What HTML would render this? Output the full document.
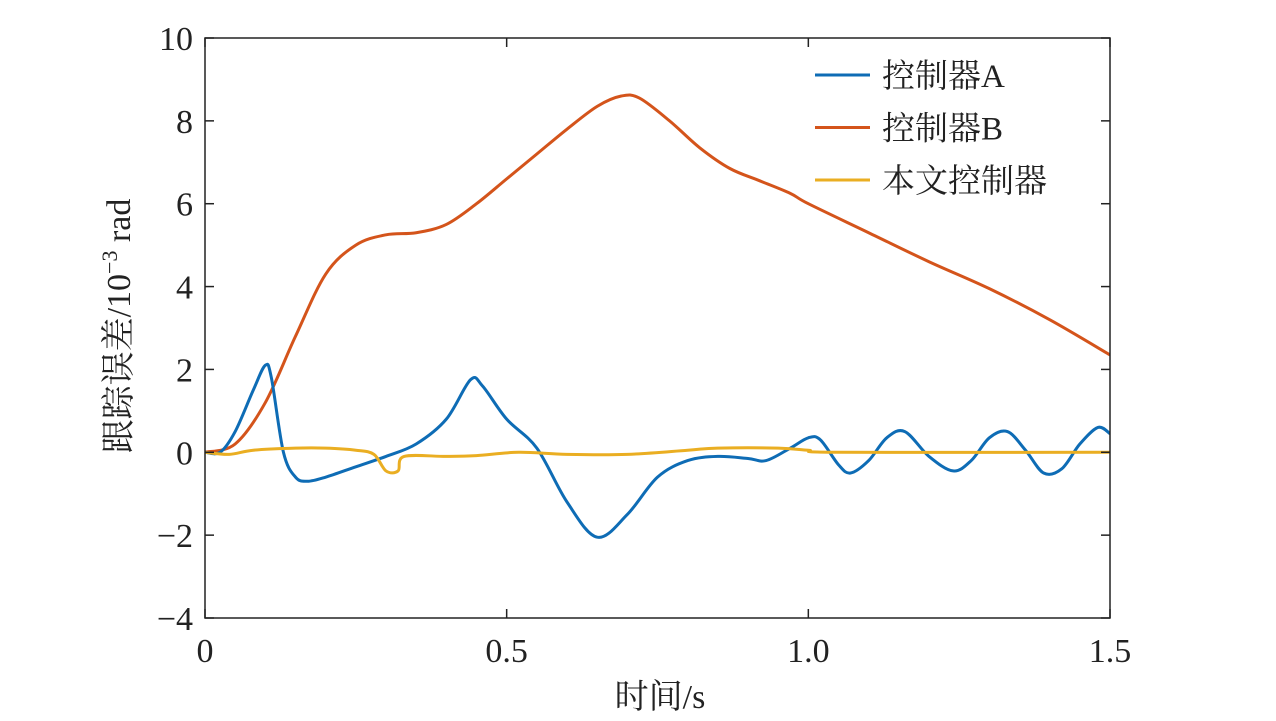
<!DOCTYPE html>
<html><head><meta charset="utf-8"><style>
body{margin:0;background:#fff}
svg{display:block}
text{font-family:"Liberation Serif","Noto Serif CJK SC",serif;fill:#222}
</style></head><body>
<svg id="c" width="1276" height="721"></svg>
<script>
const seriesAx=[0,0.025,0.05,0.08,0.1,0.11,0.13,0.15,0.17,0.2,0.25,0.3,0.35,0.4,0.44,0.46,0.5,0.55,0.6,0.65,0.7,0.75,0.8,0.85,0.9,0.93,0.97,1.0,1.02,1.05,1.07,1.1,1.13,1.16,1.2,1.24,1.27,1.3,1.33,1.36,1.39,1.42,1.45,1.48,1.5];
const seriesAy=[0,0,0.5,1.5,2.1,1.8,0,-0.6,-0.7,-0.6,-0.35,-0.1,0.2,0.8,1.75,1.6,0.8,0.1,-1.2,-2.05,-1.5,-0.6,-0.2,-0.1,-0.15,-0.2,0.1,0.35,0.3,-0.3,-0.5,-0.2,0.35,0.5,-0.1,-0.45,-0.2,0.35,0.5,0.05,-0.5,-0.4,0.2,0.6,0.45];
const seriesBx=[0,0.05,0.1,0.15,0.2,0.25,0.3,0.35,0.4,0.45,0.5,0.55,0.6,0.65,0.69,0.72,0.77,0.82,0.87,0.92,0.97,1.0,1.1,1.2,1.3,1.4,1.5];
const seriesBy=[0,0.2,1.2,2.8,4.3,5.0,5.25,5.3,5.5,6.0,6.6,7.2,7.8,8.35,8.6,8.55,8.0,7.35,6.85,6.55,6.25,6.0,5.3,4.6,3.95,3.2,2.35];
const seriesCx=[0,0.04,0.08,0.15,0.2,0.25,0.28,0.3,0.32,0.33,0.4,0.45,0.52,0.6,0.7,0.8,0.85,0.95,1.0,1.05,1.5];
const seriesCy=[0,-0.05,0.05,0.1,0.1,0.05,-0.05,-0.45,-0.45,-0.1,-0.1,-0.08,0,-0.05,-0.05,0.05,0.1,0.1,0.05,0,0];
const xTicks=[0,0.5,1.0,1.5], xTickLabels=["0","0.5","1.0","1.5"];
const yTicks=[-4,-2,0,2,4,6,8,10], yTickLabels=["\u22124","\u22122","0","2","4","6","8","10"];
const legendLabels=["控制器A","控制器B","本文控制器"];
const colors=["#0e6cb5","#d4541b","#eaae22"];

const L=205,R=1110,T=38,B=618;
const sx=v=>L+(v-0)/1.5*(R-L), sy=v=>T+(10-v)/14*(B-T);
const svg=document.getElementById('c'), NS="http://www.w3.org/2000/svg";
function mk(t,a,p){const e=document.createElementNS(NS,t);for(const k in a)e.setAttribute(k,a[k]);(p||svg).appendChild(e);return e;}
function path(xs,ys){const p=xs.map((x,i)=>[sx(x),sy(ys[i])]);let d=`M${p[0][0]},${p[0][1]}`;
for(let i=0;i<p.length-1;i++){const p0=p[i-1]||p[i],p1=p[i],p2=p[i+1],p3=p[i+2]||p2;
d+=` C${p1[0]+(p2[0]-p0[0])/6},${p1[1]+(p2[1]-p0[1])/6} ${p2[0]-(p3[0]-p1[0])/6},${p2[1]-(p3[1]-p1[1])/6} ${p2[0]},${p2[1]}`;}return d;}
const clip=mk('clipPath',{id:'cl'});mk('rect',{x:L,y:T,width:R-L,height:B-T},clip);
const data=[[seriesAx,seriesAy],[seriesBx,seriesBy],[seriesCx,seriesCy]];
const names=['series-controller-a','series-controller-b','series-proposed-controller'];
[1,0,2].forEach(i=>{const e=mk('path',{d:path(data[i][0],data[i][1]),fill:'none',stroke:colors[i],'stroke-width':3,'clip-path':'url(#cl)'});

});
const fr=mk('rect',{x:L,y:T,width:R-L,height:B-T,fill:'none',stroke:'#222','stroke-width':1.5});


xTicks.forEach((v,i)=>{const x=sx(v);mk('line',{x1:x,x2:x,y1:B,y2:B-9,stroke:'#222','stroke-width':1.5});mk('line',{x1:x,x2:x,y1:T,y2:T+9,stroke:'#222','stroke-width':1.5});
const t=mk('text',{x:x,y:B+44,'text-anchor':'middle','font-size':34});t.textContent=xTickLabels[i];

});
yTicks.forEach((v,i)=>{const y=sy(v);mk('line',{x1:L,x2:L+9,y1:y,y2:y,stroke:'#222','stroke-width':1.5});mk('line',{x1:R,x2:R-9,y1:y,y2:y,stroke:'#222','stroke-width':1.5});
const t=mk('text',{x:L-12,y:y+12,'text-anchor':'end','font-size':34});t.textContent=yTickLabels[i];

});
const xt=mk('text',{x:660,y:708,'text-anchor':'middle','font-size':34});xt.textContent='时间/s';


const yt=mk('text',{transform:'translate(130,326) rotate(-90)','text-anchor':'middle','font-size':34});
yt.innerHTML='跟踪误差/10<tspan dy="-13" font-size="22">\u22123</tspan><tspan dy="13"> rad</tspan>';


legendLabels.forEach((s,i)=>{const y=75+i*52.5;const g=mk('g',{});


mk('line',{x1:815,x2:870,y1:y,y2:y,stroke:colors[i],'stroke-width':3},g);
const t=mk('text',{x:882,y:y+12,'font-size':33},g);t.textContent=s;});
</script>
</body></html>
